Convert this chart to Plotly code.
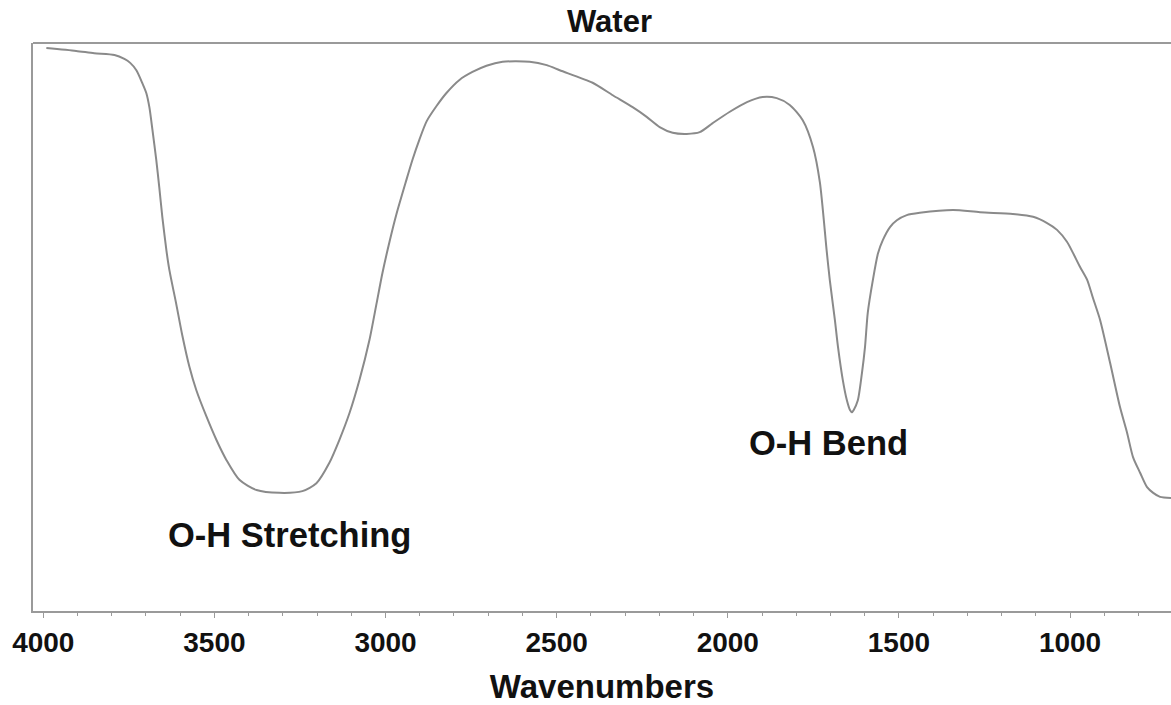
import plotly.graph_objects as go

# IR spectrum of liquid water: wavenumber (cm^-1) vs. transmittance (%)
wavenumber = [
    3991, 3904, 3851, 3792, 3763, 3746, 3728, 3711, 3699, 3690, 3681, 3670,
    3661, 3652, 3640, 3632, 3611, 3594, 3573, 3553, 3523, 3494, 3465, 3427,
    3377, 3310, 3243, 3202, 3164, 3135, 3105, 3076, 3047, 3026, 3009, 2988,
    2968, 2939, 2921, 2901, 2880, 2851, 2822, 2784, 2746, 2705, 2658, 2579,
    2529, 2491, 2395, 2336, 2278, 2237, 2199, 2161, 2120, 2082, 2044, 1994,
    1944, 1898, 1857, 1819, 1781, 1751, 1731, 1711, 1702, 1687, 1678, 1664,
    1652, 1643, 1637, 1632, 1620, 1608, 1599, 1591, 1576, 1561, 1547, 1526,
    1506, 1477, 1439, 1342, 1263, 1167, 1108, 1067, 1038, 1009, 991, 971,
    950, 933, 912, 883, 854, 833, 816, 795, 775, 757, 737, 705,
]
transmittance = [
    99.1, 98.6, 98.2, 97.9, 97.2, 96.5, 95.2, 93.0, 91.2, 88.7, 84.7, 79.5,
    74.6, 69.3, 63.4, 60.2, 53.9, 48.6, 43.0, 38.9, 34.2, 30.1, 26.6, 23.1,
    21.3, 20.8, 21.1, 22.5, 26.1, 30.1, 34.9, 40.7, 47.7, 54.2, 59.5, 65.1,
    69.9, 75.9, 79.5, 83.0, 86.2, 88.9, 91.2, 93.5, 94.9, 96.0, 96.7, 96.7,
    96.1, 95.2, 93.0, 90.8, 88.7, 87.0, 85.2, 84.2, 84.0, 84.3, 85.9, 87.9,
    89.6, 90.5, 90.3, 89.1, 86.4, 81.7, 75.5, 63.4, 58.3, 51.2, 46.5, 40.7,
    37.1, 35.4, 35.0, 35.4, 37.1, 41.9, 46.5, 52.5, 58.3, 63.0, 65.3, 67.6,
    68.8, 69.7, 70.1, 70.6, 70.2, 69.9, 69.4, 68.3, 67.1, 65.0, 63.0, 60.6,
    58.3, 55.1, 51.2, 43.7, 35.9, 31.3, 27.1, 24.3, 21.8, 20.8, 20.1, 19.9,
]

tick_values = [4000, 3500, 3000, 2500, 2000, 1500, 1000]
tick_labels = ["4000", "3500", "3000", "2500", "2000", "1500", "1000"]

band_labels = ["O-H Stretching", "O-H Bend"]
band_x = [3281, 1705]
band_y = [13.4, 29.6]

FONT = "Arial, Liberation Sans, sans-serif"
FRAME = "#9a9a9a"

fig = go.Figure()
fig.add_trace(go.Scatter(
    x=wavenumber, y=transmittance, mode="lines",
    line=dict(color="#8a8a8a", width=2, shape="spline", smoothing=0.7),
    showlegend=False, hoverinfo="skip",
))

for text, bx, by in zip(band_labels, band_x, band_y):
    fig.add_annotation(
        x=bx, y=by, xref="x", yref="y", text=f"<b>{text}</b>", showarrow=False,
        xanchor="center", yanchor="middle",
        font=dict(family=FONT, size=34.5, color="#111111"),
    )

fig.add_annotation(
    x=0.507, y=1.038, xref="paper", yref="paper", text="<b>Water</b>",
    showarrow=False, xanchor="center", yanchor="middle",
    font=dict(family=FONT, size=31, color="#111111"),
)

# top edge of the frame (the right edge runs off the page)
fig.add_shape(type="line", xref="paper", yref="paper", x0=0, x1=1, y0=1, y1=1,
              line=dict(color=FRAME, width=2))

fig.update_layout(
    width=1171, height=705,
    margin=dict(l=33, r=0, t=43, b=94),
    paper_bgcolor="white", plot_bgcolor="white",
    xaxis=dict(
        range=[4030, 705], tickvals=tick_values, ticktext=tick_labels,
        ticks="outside", ticklen=5, tickwidth=1, tickcolor=FRAME,
        minor=dict(dtick=100, ticks="outside", ticklen=3, tickcolor=FRAME),
        showline=True, linecolor=FRAME, linewidth=2,
        showgrid=False, zeroline=False,
        tickfont=dict(family=FONT, size=28, color="#111111", weight="bold"),
        title=dict(text="<b>Wavenumbers</b>", standoff=22,
                   font=dict(family=FONT, size=33, color="#111111")),
    ),
    yaxis=dict(
        range=[0, 100], showticklabels=False, ticks="",
        showline=True, linecolor=FRAME, linewidth=2,
        showgrid=False, zeroline=False,
    ),
)

fig.write_html("out.html")
